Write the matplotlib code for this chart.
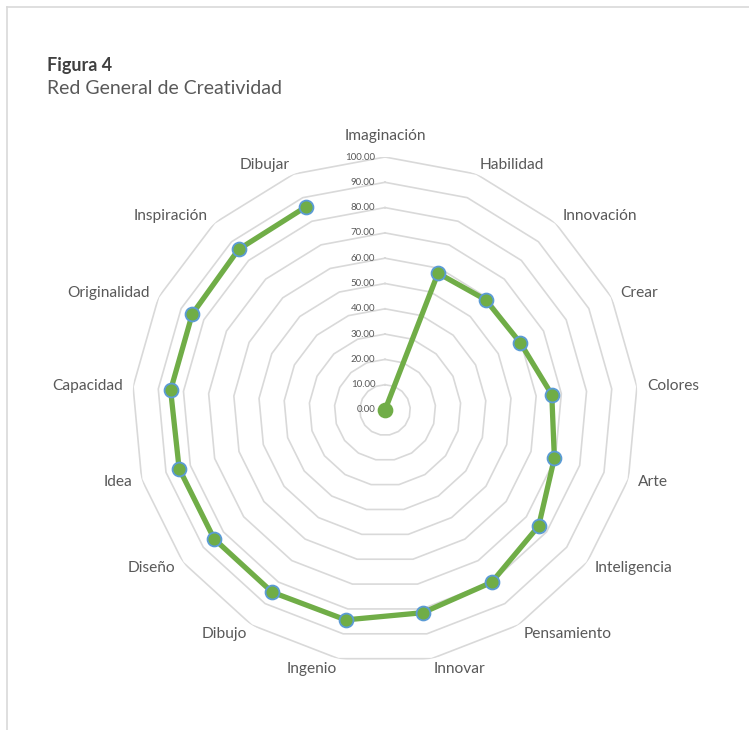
import numpy as np
import matplotlib
matplotlib.use("Agg")
import matplotlib.pyplot as plt
from matplotlib.lines import Line2D

plt.rcParams['font.family'] = ['Lato', 'DejaVu Sans']

categories = ["Imaginación", "Habilidad", "Innovación", "Crear", "Colores", "Arte",
              "Inteligencia", "Pensamiento", "Innovar", "Ingenio", "Dibujo", "Diseño",
              "Idea", "Capacidad", "Originalidad", "Inspiración", "Dibujar"]
values = [0.0, 58.0, 59.0, 59.7, 66.2, 69.6, 76.1, 80.1, 81.5, 84.4, 84.7,
          84.6, 84.6, 85.1, 85.1, 85.9, 86.2]
ring_levels = [10, 20, 30, 40, 50, 60, 70, 80, 90, 100]
tick_levels = [0, 10, 20, 30, 40, 50, 60, 70, 80, 90, 100]

W, H = 749, 730
fig = plt.figure(figsize=(W / 100, H / 100), dpi=100)

cx, cy, R = 385, 410, 253
ax = fig.add_axes([(cx - R) / W, (H - cy - R) / H, 2 * R / W, 2 * R / H], projection='polar')
ax.set_theta_zero_location('N')
ax.set_theta_direction(-1)
ax.set_ylim(0, 100)
ax.set_xticks([])
ax.set_yticks([])
ax.grid(False)
ax.spines['polar'].set_visible(False)
ax.patch.set_visible(False)

n = len(categories)
theta = np.arange(n) * 2 * np.pi / n
theta_closed = np.append(theta, theta[0])

grid_color = '#D9D9D9'
for r in ring_levels:
    ax.plot(theta_closed, [r] * (n + 1), color=grid_color, lw=1.2, zorder=1)

text_color = '#595959'
for v in tick_levels:
    ax.annotate(f"{v:.2f}", xy=(0, v), xytext=(-7, 0), textcoords='offset points',
                ha='right', va='center', fontsize=7, color=text_color, zorder=2)

gap = 7.2
for i, (t, lab) in enumerate(zip(theta, categories)):
    s, c = np.sin(t), np.cos(t)
    if abs(s) < 0.05:
        ha = 'center'
    elif s > 0:
        ha = 'left'
    else:
        ha = 'right'
    va = 'bottom' if c > 0.99 else 'center'
    dy = gap * c if va == 'center' else gap + 3
    ax.annotate(lab, xy=(t, 100), xytext=(gap * s, dy), textcoords='offset points',
                ha=ha, va=va, fontsize=11.2, color=text_color, annotation_clip=False)

ax.plot(theta, values, color='#70AD47', lw=3.8, zorder=3, solid_capstyle='round',
        solid_joinstyle='round')
ax.plot(theta[1:], values[1:], ls='none', marker='o', markersize=10,
        markerfacecolor='#70AD47', markeredgecolor='#5B9BD5', markeredgewidth=1.3,
        zorder=4, clip_on=False)
ax.plot(theta[:1], values[:1], ls='none', marker='o', markersize=10,
        markerfacecolor='#70AD47', markeredgecolor='#70AD47', markeredgewidth=1.3,
        zorder=4, clip_on=False)

# frame lines
fig.add_artist(Line2D([7 / W, 7 / W], [0, 1 - 7 / H], color=grid_color, lw=1.2,
                      transform=fig.transFigure))
fig.add_artist(Line2D([7 / W, 1], [1 - 7 / H, 1 - 7 / H], color=grid_color, lw=1.2,
                      transform=fig.transFigure))

fig.text(47 / W, 1 - 65 / H, "Figura 4", fontsize=13, fontweight='bold',
         color='#404040', ha='left', va='center')
fig.text(47 / W, 1 - 88 / H, "Red General de Creatividad", fontsize=14,
         color='#595959', ha='left', va='center')

fig.savefig("out.png", dpi=100)
